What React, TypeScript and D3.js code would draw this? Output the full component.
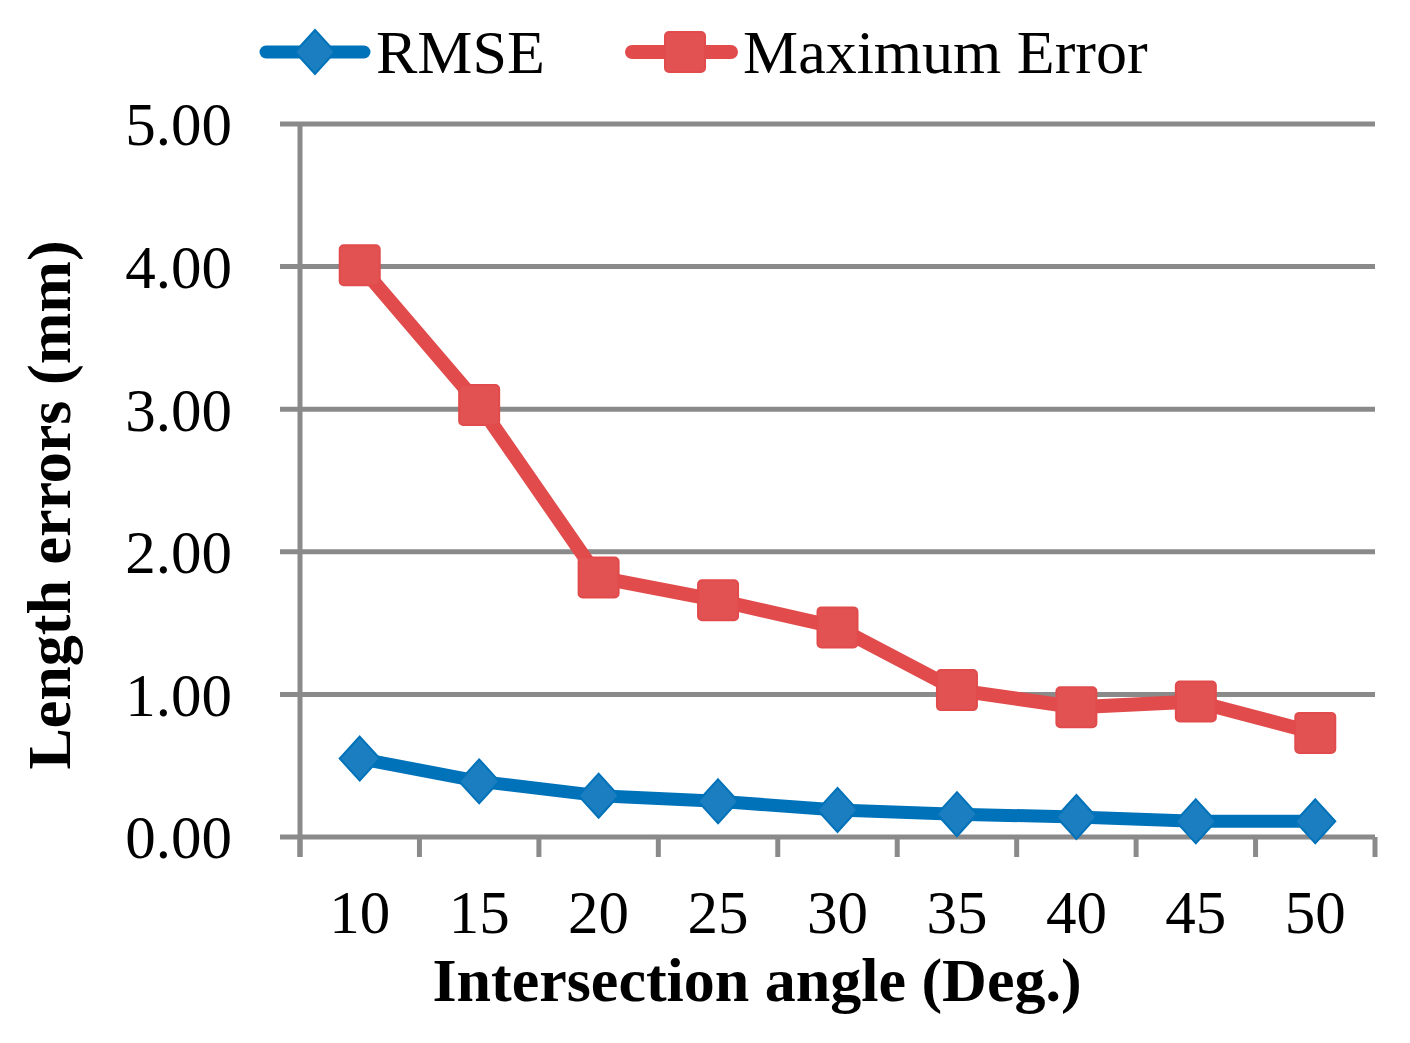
import { useRef, useEffect } from 'react';
import * as d3 from 'd3';

const angles = ['10', '15', '20', '25', '30', '35', '40', '45', '50'];
const rmse = [0.55, 0.39, 0.29, 0.25, 0.19, 0.16, 0.14, 0.11, 0.11];
const maxError = [4.01, 3.03, 1.82, 1.66, 1.47, 1.03, 0.91, 0.95, 0.73];
const yTicks = [0, 1, 2, 3, 4, 5];

const BLUE = '#0072b9';
const BLUE_MARK = '#1a7ec0';
const RED = '#e14b4b';
const RED_MARK = '#e25252';
const GRID = '#8a8a8a';
const FONT = '"Liberation Serif", "Times New Roman", serif';

export default function App() {
  const svgRef = useRef<SVGSVGElement | null>(null);
  const width = 1410;
  const height = 1043;

  useEffect(() => {
    const svg = d3.select(svgRef.current);
    svg.selectAll('*').remove();

    const left = 300, right = 1375, top = 124, bottom = 837;

    const x = d3.scaleBand<string>().domain(angles).range([left, right]);
    const y = d3.scaleLinear().domain([0, 5]).range([bottom, top]);
    const cx = (d: string) => (x(d) ?? 0) + x.bandwidth() / 2;

    // grid lines (extend left past axis as tick marks)
    svg.append('g')
      .selectAll('line')
      .data(yTicks)
      .join('line')
      .attr('x1', left - 20)
      .attr('x2', right)
      .attr('y1', d => y(d))
      .attr('y2', d => y(d))
      .attr('stroke', GRID)
      .attr('stroke-width', 5);

    // y axis line
    svg.append('line')
      .attr('x1', left).attr('x2', left)
      .attr('y1', top).attr('y2', bottom + 20)
      .attr('stroke', GRID).attr('stroke-width', 5);

    // x tick marks at band boundaries
    const bounds = angles.map(a => x(a) ?? 0).concat([right]);
    svg.append('g')
      .selectAll('line')
      .data(bounds)
      .join('line')
      .attr('x1', d => d).attr('x2', d => d)
      .attr('y1', bottom).attr('y2', bottom + 20)
      .attr('stroke', GRID).attr('stroke-width', 5);

    // y tick labels
    svg.append('g')
      .selectAll('text')
      .data(yTicks)
      .join('text')
      .attr('x', 232)
      .attr('y', d => y(d))
      .attr('dy', '0.35em')
      .attr('text-anchor', 'end')
      .style('font-family', FONT)
      .style('font-size', '61px')
      .text(d => d.toFixed(2));

    // x tick labels
    svg.append('g')
      .selectAll('text')
      .data(angles)
      .join('text')
      .attr('x', d => cx(d))
      .attr('y', 933)
      .attr('text-anchor', 'middle')
      .style('font-family', FONT)
      .style('font-size', '61px')
      .text(d => d);

    // axis titles
    svg.append('text')
      .attr('x', 757)
      .attr('y', 1001)
      .attr('text-anchor', 'middle')
      .style('font-family', FONT)
      .style('font-size', '62px')
      .style('font-weight', 'bold')
      .text('Intersection angle (Deg.)');

    svg.append('text')
      .attr('transform', 'translate(70,505) rotate(-90)')
      .attr('text-anchor', 'middle')
      .style('font-family', FONT)
      .style('font-size', '62px')
      .style('font-weight', 'bold')
      .text('Length errors (mm)');

    const line = d3.line<number>()
      .x((_, i) => cx(angles[i]))
      .y(d => y(d));

    // RMSE
    svg.append('path')
      .attr('d', line(rmse))
      .attr('fill', 'none')
      .attr('stroke', BLUE)
      .attr('stroke-width', 13)
      .attr('stroke-linejoin', 'round');

    const diamond = (px: number, py: number) =>
      `M${px},${py - 22}L${px + 20},${py}L${px},${py + 22}L${px - 20},${py}Z`;

    svg.append('g')
      .selectAll('path')
      .data(rmse)
      .join('path')
      .attr('d', (d, i) => diamond(cx(angles[i]), y(d)))
      .attr('fill', BLUE_MARK)
      .attr('stroke', BLUE)
      .attr('stroke-width', 2);

    // Maximum Error
    svg.append('path')
      .attr('d', line(maxError))
      .attr('fill', 'none')
      .attr('stroke', RED)
      .attr('stroke-width', 14)
      .attr('stroke-linejoin', 'round');

    svg.append('g')
      .selectAll('rect')
      .data(maxError)
      .join('rect')
      .attr('x', (d, i) => cx(angles[i]) - 20)
      .attr('y', d => y(d) - 20)
      .attr('width', 40)
      .attr('height', 40)
      .attr('rx', 4)
      .attr('fill', RED_MARK)
      .attr('stroke', RED)
      .attr('stroke-width', 2);

    // legend
    const lg = svg.append('g');
    lg.append('line')
      .attr('x1', 266).attr('x2', 364).attr('y1', 52).attr('y2', 52)
      .attr('stroke', BLUE).attr('stroke-width', 13).attr('stroke-linecap', 'round');
    lg.append('path')
      .attr('d', diamond(315, 52))
      .attr('fill', BLUE_MARK).attr('stroke', BLUE).attr('stroke-width', 2);
    lg.append('text')
      .attr('x', 376).attr('y', 73)
      .style('font-family', FONT).style('font-size', '62px')
      .text('RMSE');

    lg.append('line')
      .attr('x1', 632).attr('x2', 731).attr('y1', 52).attr('y2', 52)
      .attr('stroke', RED).attr('stroke-width', 14).attr('stroke-linecap', 'round');
    lg.append('rect')
      .attr('x', 665).attr('y', 32).attr('width', 40).attr('height', 40).attr('rx', 4)
      .attr('fill', RED_MARK).attr('stroke', RED).attr('stroke-width', 2);
    lg.append('text')
      .attr('x', 743).attr('y', 73)
      .style('font-family', FONT).style('font-size', '62px')
      .text('Maximum Error');
  }, []);

  return <svg ref={svgRef} width={width} height={height} style={{ display: 'block', margin: -8 }}></svg>;
}
